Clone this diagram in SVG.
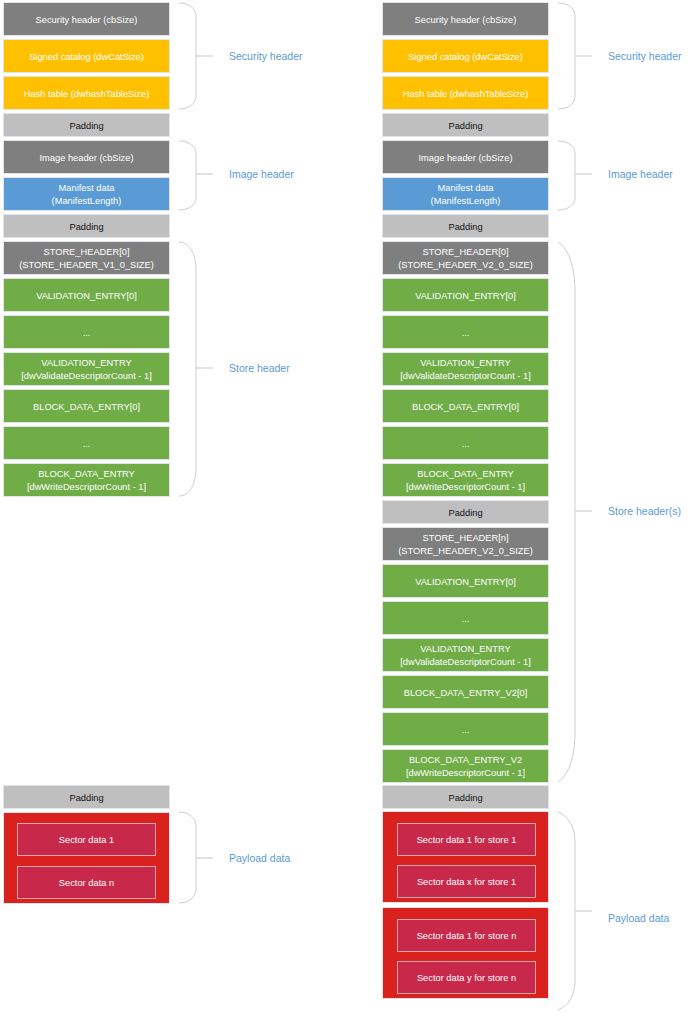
<svg xmlns="http://www.w3.org/2000/svg" width="691" height="1018" viewBox="0 0 691 1018">
<style>
.b{stroke:#e1e5ea;stroke-width:2;paint-order:stroke}
.gray{fill:#7f7f7f}.yel{fill:#ffc000}.blue{fill:#5b9bd5}.pad{fill:#bfbfbf}.grn{fill:#70ad47}.red{fill:#d9221e}
.sec{fill:#c8294b;stroke:#e8a3ad;stroke-width:1}
text{font-family:"Liberation Sans",Arial,sans-serif}
.t{font-size:9.3px;fill:#ffffff;text-anchor:middle}
.tp{font-size:9.3px;fill:#111111;text-anchor:middle}
.lbl{font-size:10.5px;fill:#5b9bd5}
.br{fill:none;stroke:#c9cdd2;stroke-width:1}
.tk{fill:none;stroke:#d6d9dd;stroke-width:1.5}
</style>
<rect width="691" height="1018" fill="#ffffff"/>

<!-- LEFT COLUMN -->
<g id="L-security-header"><rect class="b gray" x="4" y="3" width="165" height="32"/><text class="t" x="86.5" y="22.5">Security header (cbSize)</text></g>
<g id="L-signed-catalog"><rect class="b yel" x="4" y="40" width="165" height="32"/><text class="t" x="86.5" y="59.5">Signed catalog (dwCatSize)</text></g>
<g id="L-hash-table"><rect class="b yel" x="4" y="77" width="165" height="32"/><text class="t" x="86.5" y="96.5">Hash table (dwhashTableSize)</text></g>
<g id="L-padding1"><rect class="b pad" x="4" y="114" width="165" height="22"/><text class="tp" x="86.5" y="128.5">Padding</text></g>
<g id="L-image-header"><rect class="b gray" x="4" y="141" width="165" height="32"/><text class="t" x="86.5" y="160.5">Image header (cbSize)</text></g>
<g id="L-manifest"><rect class="b blue" x="4" y="178" width="165" height="32"/><text class="t" x="86.5" y="190.5">Manifest data</text><text class="t" x="86.5" y="203.5">(ManifestLength)</text></g>
<g id="L-padding2"><rect class="b pad" x="4" y="215" width="165" height="22"/><text class="tp" x="86.5" y="229.5">Padding</text></g>
<g id="L-store-header0"><rect class="b gray" x="4" y="242" width="165" height="32"/><text class="t" x="86.5" y="254.5">STORE_HEADER[0]</text><text class="t" x="86.5" y="267.5">(STORE_HEADER_V1_0_SIZE)</text></g>
<g id="L-validation0"><rect class="b grn" x="4" y="279" width="165" height="32"/><text class="t" x="86.5" y="298.5">VALIDATION_ENTRY[0]</text></g>
<g id="L-validation-dots"><rect class="b grn" x="4" y="316" width="165" height="32"/><text class="t" x="86.5" y="335.5">...</text></g>
<g id="L-validation-last"><rect class="b grn" x="4" y="353" width="165" height="32"/><text class="t" x="86.5" y="365.5">VALIDATION_ENTRY</text><text class="t" x="86.5" y="378.5">[dwValidateDescriptorCount - 1]</text></g>
<g id="L-block0"><rect class="b grn" x="4" y="390" width="165" height="32"/><text class="t" x="86.5" y="409.5">BLOCK_DATA_ENTRY[0]</text></g>
<g id="L-block-dots"><rect class="b grn" x="4" y="427" width="165" height="32"/><text class="t" x="86.5" y="446.5">...</text></g>
<g id="L-block-last"><rect class="b grn" x="4" y="464" width="165" height="32"/><text class="t" x="86.5" y="476.5">BLOCK_DATA_ENTRY</text><text class="t" x="86.5" y="489.5">[dwWriteDescriptorCount - 1]</text></g>
<g id="L-padding3"><rect class="b pad" x="4" y="786" width="165" height="22"/><text class="tp" x="86.5" y="800.5">Padding</text></g>
<g id="L-payload"><rect class="b red" x="4" y="813" width="165" height="90"/>
<rect class="sec" x="17.5" y="823.5" width="138" height="32"/><text class="t" x="86.5" y="842.5">Sector data 1</text>
<rect class="sec" x="17.5" y="866.5" width="138" height="32"/><text class="t" x="86.5" y="885.5">Sector data n</text></g>

<!-- RIGHT COLUMN -->
<g id="R-security-header"><rect class="b gray" x="383" y="3" width="165" height="32"/><text class="t" x="465.5" y="22.5">Security header (cbSize)</text></g>
<g id="R-signed-catalog"><rect class="b yel" x="383" y="40" width="165" height="32"/><text class="t" x="465.5" y="59.5">Signed catalog (dwCatSize)</text></g>
<g id="R-hash-table"><rect class="b yel" x="383" y="77" width="165" height="32"/><text class="t" x="465.5" y="96.5">Hash table (dwhashTableSize)</text></g>
<g id="R-padding1"><rect class="b pad" x="383" y="114" width="165" height="22"/><text class="tp" x="465.5" y="128.5">Padding</text></g>
<g id="R-image-header"><rect class="b gray" x="383" y="141" width="165" height="32"/><text class="t" x="465.5" y="160.5">Image header (cbSize)</text></g>
<g id="R-manifest"><rect class="b blue" x="383" y="178" width="165" height="32"/><text class="t" x="465.5" y="190.5">Manifest data</text><text class="t" x="465.5" y="203.5">(ManifestLength)</text></g>
<g id="R-padding2"><rect class="b pad" x="383" y="215" width="165" height="22"/><text class="tp" x="465.5" y="229.5">Padding</text></g>
<g id="R-store-header0"><rect class="b gray" x="383" y="242" width="165" height="32"/><text class="t" x="465.5" y="254.5">STORE_HEADER[0]</text><text class="t" x="465.5" y="267.5">(STORE_HEADER_V2_0_SIZE)</text></g>
<g id="R-validation0"><rect class="b grn" x="383" y="279" width="165" height="32"/><text class="t" x="465.5" y="298.5">VALIDATION_ENTRY[0]</text></g>
<g id="R-validation-dots"><rect class="b grn" x="383" y="316" width="165" height="32"/><text class="t" x="465.5" y="335.5">...</text></g>
<g id="R-validation-last"><rect class="b grn" x="383" y="353" width="165" height="32"/><text class="t" x="465.5" y="365.5">VALIDATION_ENTRY</text><text class="t" x="465.5" y="378.5">[dwValidateDescriptorCount - 1]</text></g>
<g id="R-block0"><rect class="b grn" x="383" y="390" width="165" height="32"/><text class="t" x="465.5" y="409.5">BLOCK_DATA_ENTRY[0]</text></g>
<g id="R-block-dots"><rect class="b grn" x="383" y="427" width="165" height="32"/><text class="t" x="465.5" y="446.5">...</text></g>
<g id="R-block-last"><rect class="b grn" x="383" y="464" width="165" height="32"/><text class="t" x="465.5" y="476.5">BLOCK_DATA_ENTRY</text><text class="t" x="465.5" y="489.5">[dwWriteDescriptorCount - 1]</text></g>
<g id="R-padding3"><rect class="b pad" x="383" y="501" width="165" height="22"/><text class="tp" x="465.5" y="515.5">Padding</text></g>
<g id="R-store-headern"><rect class="b gray" x="383" y="528" width="165" height="32"/><text class="t" x="465.5" y="540.5">STORE_HEADER[n]</text><text class="t" x="465.5" y="553.5">(STORE_HEADER_V2_0_SIZE)</text></g>
<g id="R-validation0-n"><rect class="b grn" x="383" y="565" width="165" height="32"/><text class="t" x="465.5" y="584.5">VALIDATION_ENTRY[0]</text></g>
<g id="R-validation-dots-n"><rect class="b grn" x="383" y="602" width="165" height="32"/><text class="t" x="465.5" y="621.5">...</text></g>
<g id="R-validation-last-n"><rect class="b grn" x="383" y="639" width="165" height="32"/><text class="t" x="465.5" y="651.5">VALIDATION_ENTRY</text><text class="t" x="465.5" y="664.5">[dwValidateDescriptorCount - 1]</text></g>
<g id="R-block0-v2"><rect class="b grn" x="383" y="676" width="165" height="32"/><text class="t" x="465.5" y="695.5">BLOCK_DATA_ENTRY_V2[0]</text></g>
<g id="R-block-dots-v2"><rect class="b grn" x="383" y="713" width="165" height="32"/><text class="t" x="465.5" y="732.5">...</text></g>
<g id="R-block-last-v2"><rect class="b grn" x="383" y="750" width="165" height="32"/><text class="t" x="465.5" y="762.5">BLOCK_DATA_ENTRY_V2</text><text class="t" x="465.5" y="775.5">[dwWriteDescriptorCount - 1]</text></g>
<g id="R-padding4"><rect class="b pad" x="383" y="786" width="165" height="22"/><text class="tp" x="465.5" y="800.5">Padding</text></g>
<g id="R-payload-store1"><rect class="b red" x="383" y="812" width="165" height="90"/>
<rect class="sec" x="397.5" y="823.5" width="138" height="32"/><text class="t" x="466.5" y="842.5">Sector data 1 for store 1</text>
<rect class="sec" x="397.5" y="865.5" width="138" height="32"/><text class="t" x="466.5" y="884.5">Sector data x for store 1</text></g>
<g id="R-payload-storen"><rect class="b red" x="383" y="908" width="165" height="90"/>
<rect class="sec" x="397.5" y="919.5" width="138" height="32"/><text class="t" x="466.5" y="938.5">Sector data 1 for store n</text>
<rect class="sec" x="397.5" y="961.5" width="138" height="32"/><text class="t" x="466.5" y="980.5">Sector data y for store n</text></g>

<!-- CONNECTORS (braces) -->
<g id="connectors">
<path class="br" d="M179,3 C190,3 196,9 196,16 L196,96 C196,103 190,109 179,109"/>
<path class="tk" d="M196,56 L213,56"/>
<path class="br" d="M179,141 C190,141 196,147 196,153 L196,198 C196,204 190,210 179,210"/>
<path class="tk" d="M196,174 L213,174"/>
<path class="br" d="M179,242 C190,242 196,255 196,270 L196,468 C196,483 190,496 179,496"/>
<path class="tk" d="M196,368 L213,368"/>
<path class="br" d="M179,812 C190,812 196,819 196,826 L196,889 C196,896 190,903 179,903"/>
<path class="tk" d="M196,858 L213,858"/>

<path class="br" d="M558,3 C569,3 575,9 575,16 L575,96 C575,103 569,109 558,109"/>
<path class="tk" d="M575,56 L592,56"/>
<path class="br" d="M558,141 C569,141 575,147 575,153 L575,198 C575,204 569,210 558,210"/>
<path class="tk" d="M575,174 L592,174"/>
<path class="br" d="M558,242 C570,250 575,270 575,292 L575,732 C575,754 570,774 558,782"/>
<path class="tk" d="M575,511 L592,511"/>
<path class="br" d="M558,812 C569,816 575,828 575,842 L575,980 C575,994 569,1006 558,1010"/>
<path class="tk" d="M575,911 L592,911"/>
</g>

<g id="labels">
<text class="lbl" x="229" y="60">Security header</text>
<text class="lbl" x="229" y="178">Image header</text>
<text class="lbl" x="229" y="372">Store header</text>
<text class="lbl" x="229" y="862">Payload data</text>
<text class="lbl" x="608" y="60">Security header</text>
<text class="lbl" x="608" y="178">Image header</text>
<text class="lbl" x="608" y="515">Store header(s)</text>
<text class="lbl" x="608" y="922">Payload data</text>
</g>
</svg>
